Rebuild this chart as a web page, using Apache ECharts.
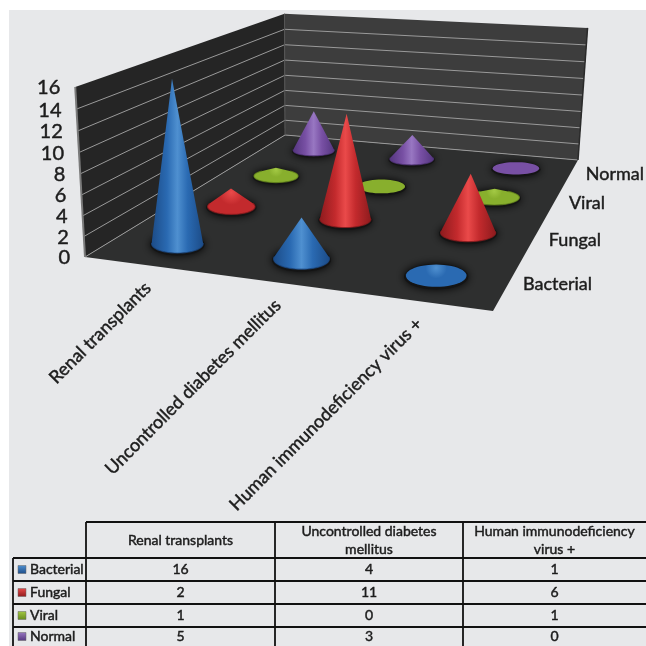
<!DOCTYPE html>
<html>
<head>
<meta charset="UTF-8">
<title>Cone chart</title>
<style>html,body{margin:0;padding:0;background:#fff;}</style>
<script src="https://cdn.jsdelivr.net/npm/echarts@6/dist/echarts.min.js"></script>
</head>
<body>
<div id="main" style="width:646px;height:646px;"></div>
<script type="text/javascript">
var categories = ['Renal transplants', 'Uncontrolled diabetes mellitus', 'Human immunodeficiency virus +'];
var tableHeaders = ['Renal transplants', 'Uncontrolled diabetes\nmellitus', 'Human immunodeficiency\nvirus +'];
var depthNames = ['Bacterial', 'Fungal', 'Viral', 'Normal'];
var bacterial = [16, 4, 1];
var fungal = [2, 11, 6];
var viral = [1, 0, 1];
var normal = [5, 3, 0];
var tickLabels = [0, 2, 4, 6, 8, 10, 12, 14, 16];
var yMax = 16;

var seriesValues = [bacterial, fungal, viral, normal];
var palette = [
	{dark: '#1c4c88', mid: '#2a6ab2', light: '#4f90d0'},
	{dark: '#8e1b1e', mid: '#c32a2d', light: '#ea4a4a'},
	{dark: '#66891c', mid: '#88af2d', light: '#a3c944'},
	{dark: '#553680', mid: '#7850a4', light: '#9877c2'}
];
var FONT = 'Lato';

// corners of the floor on screen, used to build the perspective projection
var FL = [85, 257], FR = [493, 311], BR = [578, 160], BL = [285, 135];
var VP = [300, 4000];
var wallTop = [74, 87];

function floorMatrix() {
	var dx1 = FR[0] - BR[0], dx2 = BL[0] - BR[0], sx = FL[0] - FR[0] + BR[0] - BL[0];
	var dy1 = FR[1] - BR[1], dy2 = BL[1] - BR[1], sy = FL[1] - FR[1] + BR[1] - BL[1];
	var det = dx1 * dy2 - dx2 * dy1;
	var g = (sx * dy2 - dx2 * sy) / det;
	var h = (dx1 * sy - sx * dy1) / det;
	return [
		[FR[0] - FL[0] + g * FR[0], BL[0] - FL[0] + h * BL[0], FL[0]],
		[FR[1] - FL[1] + g * FR[1], BL[1] - FL[1] + h * BL[1], FL[1]],
		[g, h, 1]
	];
}
var M = floorMatrix();
var vs = -(FL[1] - wallTop[1]) / (VP[1] - wallTop[1]);

// u along categories, v into depth, t is value / yMax
function project(u, v, t) {
	var x = M[0][0] * u + M[0][1] * v + M[0][2] + t * vs * VP[0];
	var y = M[1][0] * u + M[1][1] * v + M[1][2] + t * vs * VP[1];
	var w = M[2][0] * u + M[2][1] * v + M[2][2] + t * vs;
	return [x / w, y / w];
}

function renderCone(params, api) {
	var p = api.coord([api.value(0), api.value(1)]);
	var u = p[0] / 646, v = (646 - p[1]) / 646;
	var value = api.value(2);
	var col = palette[api.value(1)];
	var c = project(u, v, 0);
	var top = project(u, v, value / yMax);
	var a = Math.abs(project(u + 0.072, v, 0)[0] - project(u - 0.072, v, 0)[0]) / 2;
	var b = Math.abs(project(u, v + 0.058, 0)[1] - project(u, v - 0.058, 0)[1]) / 2;
	var h = c[1] - top[1];

	var ring = [], halo = [];
	for (var i = 0; i < 48; i++) {
		var ang = i / 48 * Math.PI * 2;
		ring.push([c[0] + a * Math.cos(ang), c[1] + b * Math.sin(ang)]);
		halo.push([c[0] + a * 1.06 * Math.cos(ang), c[1] + 1 + b * 1.15 * Math.sin(ang)]);
	}
	var body = [], rim = [];
	if (h > b) {
		var st = Math.asin(b / h);
		for (var k = 0; k <= 32; k++) {
			var th = -st + (Math.PI + 2 * st) * k / 32;
			var pt = [c[0] + a * Math.cos(th), c[1] + b * Math.sin(th)];
			body.push(pt);
			rim.push(pt);
		}
		body.push([top[0], top[1]]);
	} else {
		body = ring;
	}
	var fill;
	if (value === 0) {
		fill = col.mid;
	} else if (h < b * 2.6) {
		// squat cones seen from above, the light falls off from the tip
		fill = {
			type: 'radial', x: 0.5, y: 0.15, r: 0.8,
			colorStops: [
				{offset: 0, color: col.light},
				{offset: 0.6, color: col.mid},
				{offset: 1, color: col.mid}
			]
		};
	} else {
		fill = {
			type: 'linear', x: 0, y: 0, x2: 1, y2: 0,
			colorStops: [
				{offset: 0, color: col.dark},
				{offset: 0.3, color: col.mid},
				{offset: 0.5, color: col.light},
				{offset: 0.7, color: col.mid},
				{offset: 1, color: col.dark}
			]
		};
	}
	var kids = [
		{
			type: 'polygon',
			shape: {points: halo},
			style: {fill: '#141414', shadowBlur: 9, shadowColor: 'rgba(0,0,0,0.95)'}
		},
		{type: 'polygon', shape: {points: body}, style: {fill: fill}}
	];
	if (rim.length) {
		kids.push({type: 'polyline', shape: {points: rim}, style: {fill: 'none', stroke: col.dark, lineWidth: 1.2, opacity: 0.7}});
	}
	return {type: 'group', children: kids};
}

function buildSeries() {
	var out = [];
	// back rows go first so the front cones cover them
	for (var j = depthNames.length - 1; j >= 0; j--) {
		var rows = [];
		for (var i = 0; i < categories.length; i++) rows.push([i, j, seriesValues[j][i]]);
		out.push({
			type: 'custom',
			name: depthNames[j],
			renderItem: renderCone,
			data: rows,
			encode: {x: 0, y: 1},
			clip: false,
			silent: true
		});
	}
	return out;
}

function buildGraphic() {
	var g = [];
	function poly(pts, fill) {
		g.push({type: 'polygon', shape: {points: pts}, style: {fill: fill}});
	}
	function line(a, b, color, w) {
		g.push({type: 'line', shape: {x1: a[0], y1: a[1], x2: b[0], y2: b[1]}, style: {stroke: color, lineWidth: w}});
	}
	function text(s, x, y, size, align, rot) {
		g.push({
			type: 'text', x: x, y: y, rotation: rot || 0,
			style: {
				text: s, font: size + 'px ' + FONT, fill: '#1c1c1c',
				stroke: '#1c1c1c', lineWidth: 0.45,
				align: align, verticalAlign: 'middle', lineHeight: 18
			}
		});
	}
	g.push({type: 'rect', shape: {x: 9, y: 10, width: 637, height: 636}, style: {fill: '#e7e8ea'}});

	poly([project(0, 0, 0), project(0, 1, 0), project(0, 1, 1), project(0, 0, 1)], '#252525');
	poly([project(0, 1, 0), project(1, 1, 0), project(1, 1, 1), project(0, 1, 1)], '#3d3d3d');
	poly([project(0, 0, 0), project(1, 0, 0), project(1, 1, 0), project(0, 1, 0)], '#2e2f2f');
	tickLabels.forEach(function (tick) {
		var t = tick / yMax;
		if (tick < yMax) {
			line(project(0, 0, t), project(0, 1, t), '#9a9a9a', 1);
			line(project(0, 1, t), project(1, 1, t), '#9a9a9a', 1);
		}
		var at = project(0, 0, t);
		text(String(tick), at[0] - 15, at[1] + 1, 20, 'right');
	});
	line(project(0, 0, 0), project(0, 0, 1), '#7a7a7a', 2);
	line(project(0, 1, 0), project(0, 1, 1), '#555', 1);
	line(project(1, 1, 0), project(1, 1, 1), '#2a2a2a', 1.5);

	categories.forEach(function (name, i) {
		var at = project((i + 0.5) / categories.length, 0, 0);
		text(name, at[0] + 2, at[1] + 20, 18, 'right', Math.PI / 4);
	});
	var depthPos = [[592, 284], [601, 240], [605, 203], [644, 174]];
	depthNames.forEach(function (name, j) {
		text(name, depthPos[j][0], depthPos[j][1], 18, 'right');
	});

	// data table below the plot
	var colX = [13, 86, 275, 463, 646];
	var rowY = [522, 558, 581, 604, 627, 646];
	for (var r = 0; r < rowY.length - 1; r++) {
		line([r === 0 ? colX[1] : colX[0], rowY[r]], [colX[4], rowY[r]], '#111', 1.8);
	}
	for (var c = 0; c < colX.length - 1; c++) {
		line([colX[c], c === 0 ? rowY[1] : rowY[0]], [colX[c], rowY[5]], '#111', 1.8);
	}
	tableHeaders.forEach(function (h, i) {
		text(h, (colX[i + 1] + colX[i + 2]) / 2, 540, 14, 'center');
	});
	depthNames.forEach(function (name, j) {
		var cy = (rowY[j + 1] + rowY[j + 2]) / 2;
		g.push({
			type: 'rect', shape: {x: 18, y: cy - 4, width: 8, height: 8},
			style: {
				fill: {type: 'linear', x: 0, y: 0, x2: 0, y2: 1, colorStops: [
					{offset: 0, color: palette[j].light},
					{offset: 1, color: palette[j].dark}
				]},
				stroke: '#666', lineWidth: 0.5
			}
		});
		text(name, 30, cy, 14, 'left');
		seriesValues[j].forEach(function (val, i) {
			text(String(val), (colX[i + 1] + colX[i + 2]) / 2, cy, 14, 'center');
		});
	});
	return g;
}

var myChart = echarts.init(document.getElementById('main'));
var option = {
	animation: false,
	backgroundColor: '#fff',
	grid: {left: 0, top: 0, width: 646, height: 646},
	xAxis: {type: 'category', data: categories, show: false},
	yAxis: {type: 'category', data: depthNames, show: false},
	graphic: buildGraphic(),
	series: buildSeries()
};
myChart.setOption(option);
</script>
</body>
</html>
